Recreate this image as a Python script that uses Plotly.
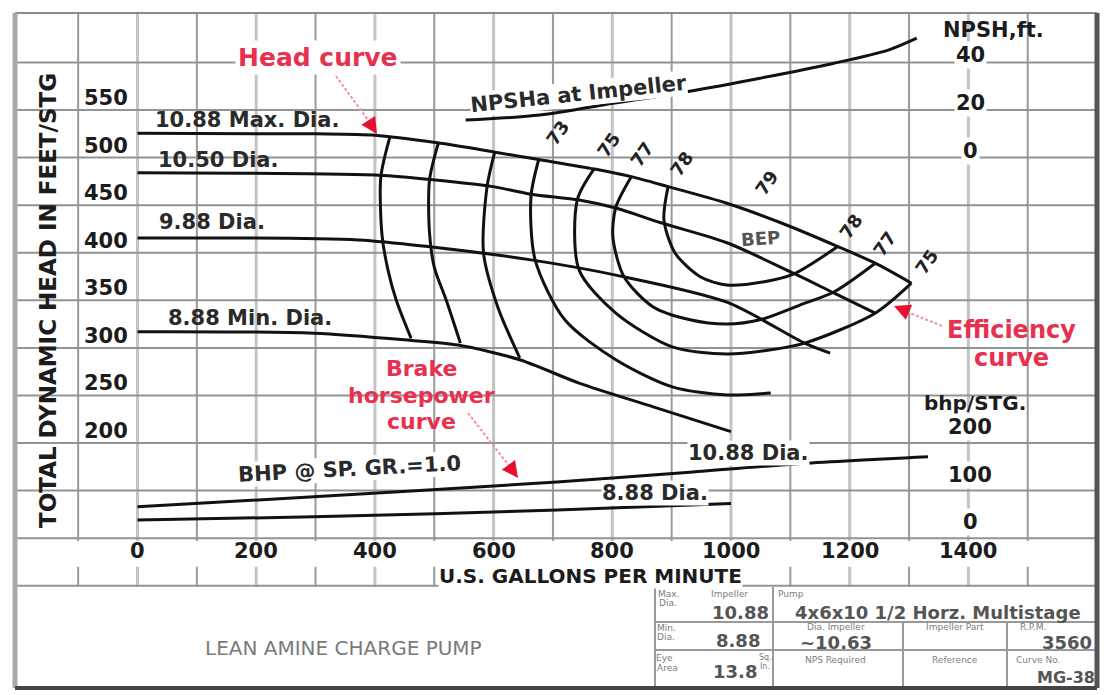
import plotly.graph_objects as go

# ---------------- data ----------------
flow_ticks = [0, 200, 400, 600, 800, 1000, 1200, 1400]
head_ticks = [200, 250, 300, 350, 400, 450, 500, 550]
npsh_ticks = [0, 20, 40]
bhp_ticks = [0, 100, 200]

# head-capacity curves (gpm, ft per stage)
dia_1088_q = [0, 300, 400, 505, 600, 676, 770, 832, 894, 993, 1086, 1180, 1243, 1304]
dia_1088_h = [525.5, 525, 523.5, 515.5, 506, 498, 488, 480, 469.5, 452, 431, 406.5, 389, 368]
dia_1050_q = [0, 406, 502, 599, 663, 744, 806, 882, 993, 1105, 1174, 1243]
dia_1050_h = [484, 481.5, 476.5, 469.5, 461.5, 455.5, 447, 431.5, 410.5, 378.5, 357.5, 336.5]
dia_988_q = [0, 372, 496, 663, 806, 993, 1124, 1167]
dia_988_h = [415.5, 413.5, 406, 392.5, 376.5, 348, 305, 294.5]
dia_888_q = [0, 297, 459, 540, 644, 744, 869, 1000]
dia_888_h = [317, 315.5, 308, 303, 287.5, 263, 238, 212]

# iso-efficiency curves (gpm, ft)
eff_a_q = [425, 410, 412, 422, 436, 461]
eff_a_h = [521, 479.5, 418.5, 382, 350, 310]
eff_b_q = [507, 492, 492, 500, 520, 544]
eff_b_h = [515.5, 476.5, 421, 385, 350.5, 305]
eff_c_q = [602, 589, 583, 607, 644]
eff_c_h = [506, 469.5, 400, 343, 289.5]
eff_73_q = [676, 663, 670, 720, 806, 901, 993, 1067]
eff_73_h = [498, 459, 392.5, 329.5, 287.5, 259, 250.5, 252.5]
eff_75_q = [769, 741, 744, 806, 901, 993, 1056, 1124, 1243, 1304]
eff_75_h = [488, 455.5, 382, 336.5, 301, 293.5, 297, 305, 336.5, 368]
eff_77_q = [832, 806, 801, 820, 869, 931, 993, 1049, 1116, 1174, 1243]
eff_77_h = [480, 448, 416.5, 374.5, 343, 329.5, 325, 329.5, 345, 359, 389]
eff_78_q = [894, 887, 906, 949, 993, 1056, 1105, 1180]
eff_78_h = [469.5, 434.5, 399.5, 374.5, 366, 369.5, 377.5, 406.5]

# NPSH required at impeller (gpm, ft)
npsh_q = [553, 678, 801, 925, 1049, 1172, 1265, 1313]
npsh_ft = [15.8, 17.9, 22.8, 27.7, 33.4, 39.6, 45.2, 50.2]

# brake horsepower per stage (gpm, bhp)
bhp_1088_q = [0, 297, 707, 925, 1110, 1332]
bhp_1088 = [66, 87, 118, 138, 156, 171]
bhp_888_q = [0, 297, 707, 1000]
bhp_888 = [38, 45, 59, 73]

# ---------------- figure ----------------
W, H = 1112, 695
ML, MR, MT, MB = 15, 15, 13, 7
PW, PH = W - ML - MR, H - MT - MB


def px(x):
    return (x - ML) / PW


def py(y):
    return (H - MB - y) / PH


FONT = "DejaVu Sans"
INK = "#1c1c1c"
RED = "#e8304f"
CURVE = dict(color="#111111", width=3)

fig = go.Figure()


def curve(q, v, axis="y"):
    fig.add_trace(go.Scatter(x=q, y=v, yaxis=axis, mode="lines",
                             line=dict(CURVE, shape="spline", smoothing=0.8),
                             hoverinfo="skip", showlegend=False))


for q, h in [(dia_1088_q, dia_1088_h), (dia_1050_q, dia_1050_h),
             (dia_988_q, dia_988_h), (dia_888_q, dia_888_h),
             (eff_a_q, eff_a_h), (eff_b_q, eff_b_h), (eff_c_q, eff_c_h),
             (eff_73_q, eff_73_h), (eff_75_q, eff_75_h),
             (eff_77_q, eff_77_h), (eff_78_q, eff_78_h)]:
    curve(q, h)
curve(npsh_q, npsh_ft, "y2")
curve(bhp_1088_q, bhp_1088, "y3")
curve(bhp_888_q, bhp_888, "y3")

X_RANGE = [-206.4, 1616.7]
H_RANGE = [-57.5, 652.0]
fig.update_layout(
    width=W, height=H,
    margin=dict(l=ML, r=MR, t=MT, b=MB, pad=0),
    paper_bgcolor="white", plot_bgcolor="white",
    showlegend=False, hovermode=False,
    xaxis=dict(range=X_RANGE, visible=False, fixedrange=True),
    yaxis=dict(range=H_RANGE, visible=False, fixedrange=True),
    yaxis2=dict(range=[(H_RANGE[0] - 500) * 0.4, (H_RANGE[1] - 500) * 0.4],
                overlaying="y", visible=False, fixedrange=True),
    yaxis3=dict(range=[(H_RANGE[0] - 100) * 2, (H_RANGE[1] - 100) * 2],
                overlaying="y", visible=False, fixedrange=True),
)

# ---------------- grid ----------------
shapes = []
for g in range(-100, 1600, 100):
    even = (g // 100) % 2 == 0
    st = dict(color="#c4c4c4", width=3) if even else dict(color="#9a9a9a", width=2)
    for a, b in [(97, H_RANGE[1]), (48.7, 70)]:
        shapes.append(dict(type="line", xref="x", yref="y", x0=g, x1=g, y0=a, y1=b,
                           line=st, layer="below"))
for g in range(50, 650, 50):
    shapes.append(dict(type="line", xref="x", yref="y", x0=X_RANGE[0], x1=X_RANGE[1],
                       y0=g, y1=g, line=dict(color="#939393", width=2), layer="below"))


def pline(x0, y0, x1, y1, color="#999999", width=2, dash=None):
    shapes.append(dict(type="line", xref="paper", yref="paper",
                       x0=px(x0), y0=py(y0), x1=px(x1), y1=py(y1),
                       line=dict(color=color, width=width, dash=dash)))


def prect(x0, y0, x1, y1):
    shapes.append(dict(type="rect", xref="paper", yref="paper",
                       x0=px(x0), y0=py(y0), x1=px(x1), y1=py(y1),
                       fillcolor="white", line=dict(width=0), layer="below"))


# white backgrounds behind call-out blocks (cover grid only)
prect(380, 358, 463, 382)
prect(335, 383, 507, 408)
prect(380, 409, 462, 433)
prect(941, 316, 1082, 350)
prect(968, 345, 1054, 370)
prect(893, 393, 1050, 416)

# title block
pline(655, 587, 655, 688)
pline(773, 587, 773, 688)
pline(655, 622, 1097, 622)
pline(655, 650, 1097, 650)
pline(903, 622, 903, 688)
pline(1007, 622, 1007, 688)
# frame
pline(15, 13, 1097, 13, "#8a8a8a", 2)
pline(15, 13, 15, 688, "#a9a9a9", 5)
pline(1097, 13, 1097, 688, "#555555", 5)
pline(15, 688, 1097, 688, "#444444", 4)
# pointer shafts
pline(333, 72, 371, 124, "#f391a6", 2, "3px,2px")
pline(468, 413, 510, 467, "#f391a6", 2, "3px,2px")
pline(942, 326, 905, 311, "#f391a6", 2, "3px,2px")
fig.update_layout(shapes=shapes)


# ---------------- text ----------------
def txt(x, y, s, size=21, color=INK, bold=True, angle=0, bg=None, pad=1, family=FONT):
    fig.add_annotation(x=px(x), y=py(y), xref="paper", yref="paper",
                       text=f"<b>{s}</b>" if bold else s, showarrow=False,
                       font=dict(family=family, size=size, color=color),
                       textangle=angle, bgcolor=bg, borderpad=pad,
                       xanchor="center", yanchor="middle")


def head_arrow(x, y, dx, dy):
    fig.add_annotation(x=px(x), y=py(y), xref="paper", yref="paper", text="",
                       showarrow=True, ax=dx, ay=dy, arrowhead=2, arrowsize=1.3,
                       arrowwidth=2.5, arrowcolor="#e8102f")


# axis titles (drawn first so tick labels sit on top)
txt(48, 301, "TOTAL DYNAMIC HEAD IN FEET/STG", 23, angle=-90)
txt(590, 576, "U.S. GALLONS PER MINUTE", 20, bg="white", pad=0)
txt(993, 30, "NPSH,ft.", 21)
txt(975, 403, "bhp/STG.", 20)

TICKFONT = dict(family=FONT, size=21, color=INK)
for v in head_ticks:
    fig.add_annotation(x=px(106), y=v, xref="paper", yref="y", text=f"<b>{v}</b>",
                       showarrow=False, yshift=12, xanchor="center", yanchor="middle",
                       font=TICKFONT)
for v in flow_ticks:
    fig.add_annotation(x=v, y=py(551), xref="x", yref="paper", text=f"<b>{v}</b>",
                       showarrow=False, xanchor="center", yanchor="middle",
                       font=TICKFONT)
for v in npsh_ticks:
    fig.add_annotation(x=px(970), y=v, xref="paper", yref="y2", text=f"<b>{v}</b>",
                       showarrow=False, yshift=7, bgcolor="white", borderpad=1,
                       xanchor="center", yanchor="middle", font=TICKFONT)
for v in bhp_ticks:
    fig.add_annotation(x=px(970), y=v, xref="paper", yref="y3", text=f"<b>{v}</b>",
                       showarrow=False, yshift=16, bgcolor="white", borderpad=1,
                       xanchor="center", yanchor="middle", font=TICKFONT)

# curve labels
LBL = "#2a2a2a"
txt(247, 120, "10.88 Max. Dia.", 21, LBL)
txt(218, 160, "10.50 Dia.", 21, LBL)
txt(212, 222, "9.88 Dia.", 21, LBL)
txt(250, 318, "8.88 Min. Dia.", 21, LBL)
txt(578, 94, "NPSHa at Impeller", 21, LBL, angle=-6, bg="white", pad=0)
txt(349, 469, "BHP @ SP. GR.=1.0", 21, LBL, angle=-3, bg="white", pad=0)
txt(748, 453, "10.88 Dia.", 21, LBL, bg="white", pad=0)
txt(655, 493, "8.88 Dia.", 21, LBL, bg="white", pad=0)
for s, x, y in [("73", 557, 133), ("75", 608, 145), ("77", 642, 155), ("78", 681, 164),
                ("79", 766, 183), ("78", 851, 227), ("77", 884, 244), ("75", 926, 262)]:
    txt(x, y, s, 18, "#222", angle=-55)
txt(760, 238, "BEP", 18, "#555", angle=-4)

# red call-outs
txt(318, 57, "Head curve", 25, RED, bg="white", pad=2)
txt(421, 369, "Brake", 22, RED)
txt(421, 395, "horsepower", 22, RED)
txt(421, 421, "curve", 22, RED)
txt(1011, 330, "Efficiency", 24, RED)
txt(1011, 358, "curve", 24, RED)
head_arrow(377, 134, -7, -11)
head_arrow(518, 478, -8, -11)
head_arrow(894, 306, 12, 5)

# title block
txt(343, 648, "LEAN AMINE CHARGE PUMP", 20, "#7a7a7a", bold=False)
GREY = "#7d7d7d"
VAL = "#555555"
for s, x, y, sz, b, c in [
    ("Max.", 668, 594, 9, False, GREY), ("Dia.", 668, 603, 9, False, GREY),
    ("Impeller", 729, 594, 9, False, GREY), ("10.88", 740, 612, 18, True, VAL),
    ("Min.", 666, 628, 9, False, GREY), ("Dia.", 666, 637, 9, False, GREY),
    ("8.88", 738, 640, 18, True, VAL),
    ("Eye", 664, 658, 9, False, GREY), ("Area", 667, 668, 9, False, GREY),
    ("13.8", 735, 671, 18, True, VAL), ("Sq.", 765, 657, 8, False, GREY),
    ("In.", 765, 666, 8, False, GREY),
    ("Pump", 791, 594, 9, False, GREY),
    ("4x6x10 1/2 Horz. Multistage", 938, 612, 18, True, VAL),
    ("Dia. Impeller", 836, 627, 9, False, GREY), ("~10.63", 836, 642, 18, True, VAL),
    ("Impeller Part", 955, 627, 9, False, GREY), ("R.P.M.", 1033, 627, 9, False, GREY),
    ("3560", 1067, 642, 18, True, VAL),
    ("NPS Required", 836, 660, 9, False, GREY), ("Reference", 955, 660, 9, False, GREY),
    ("Curve No.", 1038, 660, 9, False, GREY), ("MG-38", 1066, 677, 16, True, VAL),
]:
    txt(x, y, s, sz, c, bold=b)

fig.write_html("out.html", config={"displayModeBar": False},
               post_script="document.body.style.margin='0';document.body.style.overflow='hidden';")
